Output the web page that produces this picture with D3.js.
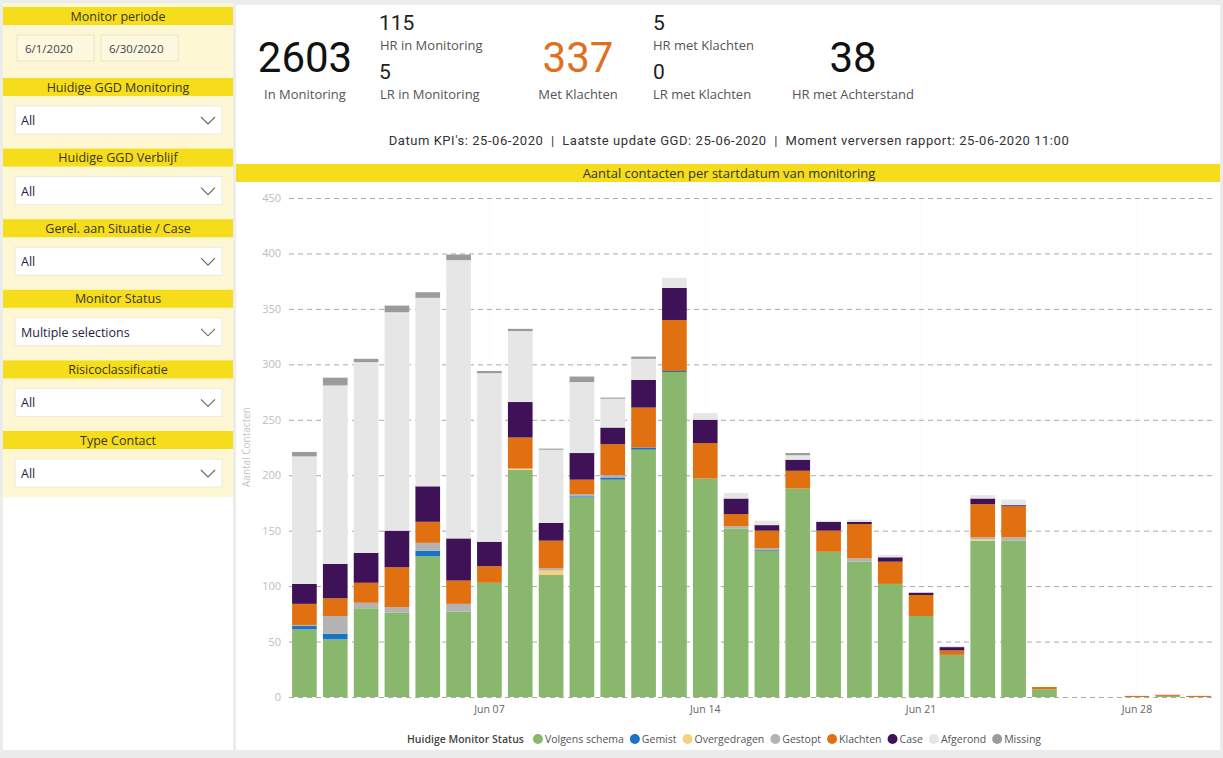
<!DOCTYPE html>
<html>
<head>
<meta charset="utf-8">
<script src="https://cdn.jsdelivr.net/npm/d3@7"></script>
<style>
  body { margin: 0; background: #ececec; }
  svg { display: block; }
</style>
</head>
<body>
<svg id="chart" width="1223" height="758"></svg>
<script>
// categorieen: startdatum van monitoring
var days = ["2020-06-01","2020-06-02","2020-06-03","2020-06-04","2020-06-05","2020-06-06","2020-06-07",
  "2020-06-08","2020-06-09","2020-06-10","2020-06-11","2020-06-12","2020-06-13","2020-06-14",
  "2020-06-15","2020-06-16","2020-06-17","2020-06-18","2020-06-19","2020-06-20","2020-06-21",
  "2020-06-22","2020-06-23","2020-06-24","2020-06-25","2020-06-26","2020-06-27","2020-06-28",
  "2020-06-29","2020-06-30"];

// series (onder -> boven)
var volgensSchema = [61,52,80,76,127,77,103,205,110,180,196,223,293,197,152,132,188,131,122,102,73,38,141,141,7,0,0,0,1,0];
var gemist        = [3,5,0,0,5,0,0,0,0,1,2,2,1,0,0,1,0,0,0,0,0,0,0,0,0,0,0,0,0,0];
var overgedragen  = [0,0,0,0,0,0,0,1,4,0,0,0,0,0,0,0,0,0,0,0,0,0,1,0,0,0,0,0,0,0];
var gestopt       = [1,16,5,5,7,7,0,0,2,2,2,0,0,0,2,1,0,0,3,0,0,0,2,3,0,0,0,0,0,0];
var klachten      = [19,16,18,36,19,21,15,28,25,13,28,36,46,32,11,16,16,19,31,20,19,4,30,28,2,0,0,1,1,1];
var caseSer       = [18,31,27,33,32,38,22,32,16,24,15,25,29,21,14,5,10,8,2,4,2,3,5,1,0,0,0,0,0,0];
var afgerond      = [115,161,172,197,170,251,152,64,66,64,26,19,9,6,5,4,4,1,2,2,0,1,3,5,0,0,0,0,0,0];
var missing       = [4,7,3,6,5,5,2,2,1,5,1,2,0,0,0,0,2,0,0,0,0,0,0,0,0,0,0,0,0,0];

var seriesNames = ["Volgens schema","Gemist","Overgedragen","Gestopt","Klachten","Case","Afgerond","Missing"];
var seriesColors = ["#89b76d","#1a73c4","#f7d27e","#b3b3b3","#e07010","#3f1157","#e6e6e6","#9b9b9b"];
var yTicks = [0,50,100,150,200,250,300,350,400,450];
var xTickDays = ["2020-06-07","2020-06-14","2020-06-21","2020-06-28"];
var xTickLabels = ["Jun 07","Jun 14","Jun 21","Jun 28"];

var slicers = [
  {title: "Huidige GGD Monitoring", value: "All"},
  {title: "Huidige GGD Verblijf", value: "All"},
  {title: "Gerel. aan Situatie / Case", value: "All"},
  {title: "Monitor Status", value: "Multiple selections"},
  {title: "Risicoclassificatie", value: "All"},
  {title: "Type Contact", value: "All"}
];

var allSeries = [volgensSchema, gemist, overgedragen, gestopt, klachten, caseSer, afgerond, missing];
var table = days.map(function(d, i) {
  var row = {day: d};
  seriesNames.forEach(function(s, k) { row[s] = allSeries[k][i]; });
  return row;
});

var svg = d3.select("#chart");
var uiFont = "'Open Sans', 'Noto Sans', sans-serif";
var numFont = "Roboto, 'DejaVu Sans', sans-serif";
var yellow = "#f5dd1c";

// ---- linker paneel
svg.append("rect").attr("x", 3).attr("y", 3).attr("width", 230).attr("height", 494).attr("fill", "#fdf7d4");
svg.append("rect").attr("x", 3).attr("y", 497).attr("width", 230).attr("height", 253).attr("fill", "#fff");
svg.append("rect").attr("x", 236).attr("y", 5).attr("width", 984).attr("height", 745).attr("fill", "#fff");

function header(y, txt) {
  svg.append("rect").attr("x", 3).attr("y", y).attr("width", 230).attr("height", 18).attr("fill", yellow);
  svg.append("text").attr("x", 118).attr("y", y + 13.5).attr("text-anchor", "middle")
    .attr("font-family", uiFont).attr("font-size", 12.5).attr("fill", "#3a3520").text(txt);
}
header(7, "Monitor periode");
[["6/1/2020", 17], ["6/30/2020", 101]].forEach(function(b) {
  svg.append("rect").attr("x", b[1]).attr("y", 35).attr("width", 77).attr("height", 26)
    .attr("fill", "#fdf8e0").attr("stroke", "#ebe6cc");
  svg.append("text").attr("x", b[1] + 8).attr("y", 52.5).attr("font-family", uiFont)
    .attr("font-size", 11.5).attr("fill", "#444").text(b[0]);
});
slicers.forEach(function(s, i) {
  var y0 = 78 + i * 70.6;
  header(y0, s.title);
  svg.append("rect").attr("x", 15).attr("y", y0 + 28).attr("width", 207).attr("height", 28)
    .attr("fill", "#fff").attr("stroke", "#eeeadb");
  svg.append("text").attr("x", 21).attr("y", y0 + 47).attr("font-family", uiFont)
    .attr("font-size", 12.5).attr("fill", "#252440").text(s.value);
  svg.append("path").attr("d", "M" + 201 + "," + (y0 + 39) + " l7,7 l7,-7")
    .attr("fill", "none").attr("stroke", "#666").attr("stroke-width", 1.1);
});

// ---- KPI's
function kpi(x, y, txt, size, color, anchor, font) {
  return svg.append("text").attr("x", x).attr("y", y).attr("text-anchor", anchor || "middle")
    .attr("font-family", font || numFont).attr("font-size", size).attr("fill", color).text(txt);
}
kpi(305, 72, "2603", 42, "#111");
kpi(305, 99, "In Monitoring", 13, "#555", "middle", uiFont);
kpi(379, 30, "115", 21, "#222", "start");
kpi(380, 50, "HR in Monitoring", 13, "#555", "start", uiFont);
kpi(379, 79, "5", 21, "#222", "start");
kpi(380, 99, "LR in Monitoring", 13, "#555", "start", uiFont);
kpi(578, 72, "337", 42, "#e07020");
kpi(578, 99, "Met Klachten", 13, "#555", "middle", uiFont);
kpi(653, 30, "5", 21, "#222", "start");
kpi(653, 50, "HR met Klachten", 13, "#555", "start", uiFont);
kpi(653, 79, "0", 21, "#222", "start");
kpi(653, 99, "LR met Klachten", 13, "#555", "start", uiFont);
kpi(853, 72, "38", 42, "#111");
kpi(853, 99, "HR met Achterstand", 13, "#555", "middle", uiFont);
kpi(729, 145, "Datum KPI's: 25-06-2020  |  Laatste update GGD: 25-06-2020  |  Moment verversen rapport: 25-06-2020 11:00",
  13, "#333", "middle", numFont).attr("letter-spacing", 0.55).style("white-space", "pre");

// ---- titelbalk
svg.append("rect").attr("x", 236).attr("y", 164).attr("width", 984).attr("height", 18).attr("fill", yellow);
svg.append("text").attr("x", 729).attr("y", 177.5).attr("text-anchor", "middle").attr("font-family", uiFont)
  .attr("font-size", 13).attr("fill", "#333").text("Aantal contacten per startdatum van monitoring");

// ---- grafiek
var x = d3.scaleBand().domain(days).range([289, 1214]).paddingInner(0.2).paddingOuter(0.1);
var y = d3.scaleLinear().domain([0, 450]).range([697, 198]);

svg.append("g").selectAll("line").data(xTickDays).enter().append("line")
  .attr("x1", function(d) { return x(d) + x.bandwidth() / 2; })
  .attr("x2", function(d) { return x(d) + x.bandwidth() / 2; })
  .attr("y1", 198).attr("y2", 697)
  .attr("stroke", "#eeeeee").attr("stroke-dasharray", "1,3");

var yAxis = svg.append("g").attr("transform", "translate(289,0)")
  .call(d3.axisLeft(y).tickValues(yTicks).tickSize(-925).tickPadding(8));
yAxis.select(".domain").remove();
yAxis.selectAll(".tick line").attr("stroke", "#aaaaaa").attr("stroke-dasharray", "5,4");
yAxis.selectAll(".tick text").attr("font-family", uiFont).attr("font-size", 11).attr("fill", "#bdbdbd");

var stack = d3.stack().keys(seriesNames);
var layers = stack(table);
var color = d3.scaleOrdinal().domain(seriesNames).range(seriesColors);

svg.append("g").selectAll("g").data(layers).enter().append("g")
  .attr("fill", function(d) { return color(d.key); })
  .selectAll("rect").data(function(d) { return d; }).enter().append("rect")
    .attr("x", function(d) { return x(d.data.day); })
    .attr("width", x.bandwidth())
    .attr("y", function(d) { return y(d[1]); })
    .attr("height", function(d) { return y(d[0]) - y(d[1]); });

var xAxis = svg.append("g").attr("transform", "translate(0,703)")
  .call(d3.axisBottom(x).tickValues(xTickDays).tickSize(0)
    .tickFormat(function(d) { return xTickLabels[xTickDays.indexOf(d)]; }));
xAxis.select(".domain").remove();
xAxis.selectAll(".tick text").attr("font-family", uiFont).attr("font-size", 10.5).attr("fill", "#666");

svg.append("text").attr("transform", "translate(250,447) rotate(-90)").attr("text-anchor", "middle")
  .attr("font-family", uiFont).attr("font-size", 10).attr("fill", "#c4c4c4").text("Aantal Contacten");

// ---- legenda
var leg = svg.append("g");
var lx = 0;
leg.append("text").attr("x", 0).attr("y", 743).attr("font-family", uiFont).attr("font-size", 10.5)
  .attr("font-weight", 600).attr("fill", "#444").text("Huidige Monitor Status")
  .each(function() { lx = this.getComputedTextLength() + 9; });
seriesNames.forEach(function(s) {
  leg.append("circle").attr("cx", lx + 5).attr("cy", 739).attr("r", 5).attr("fill", color(s));
  leg.append("text").attr("x", lx + 12).attr("y", 743).attr("font-family", uiFont).attr("font-size", 10.5)
    .attr("fill", "#555").text(s)
    .each(function() { lx += 12 + this.getComputedTextLength() + 6; });
});
leg.attr("transform", "translate(" + (727 - lx / 2) + ",0)");
</script>
</body>
</html>
